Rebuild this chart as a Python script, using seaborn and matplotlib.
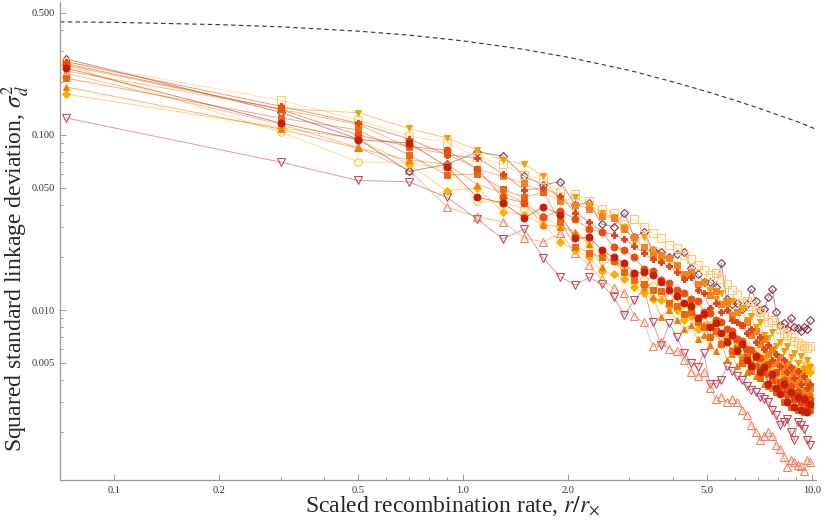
"""
Linkage deviation vs scaled recombination rate (log-log),
one curve per simulated population plus the Ohta-Kimura expectation.
"""

import matplotlib
matplotlib.use('Agg')
import matplotlib.pyplot as plt
import seaborn as sns
from matplotlib.ticker import FixedLocator, FixedFormatter, NullFormatter


# x grid: scaled recombination rate r / r_x
rate = [0.073, 0.3, 0.5, 0.7, 0.9, 1.1, 1.3, 1.5, 1.7, 1.9,
        2.1, 2.3, 2.5, 2.7, 2.9, 3.1, 3.3, 3.5, 3.7, 3.9,
        4.1, 4.3, 4.5, 4.7, 4.9, 5.1, 5.3, 5.5, 5.7, 5.9,
        6.1, 6.3, 6.5, 6.7, 6.9, 7.1, 7.3, 7.5, 7.7, 7.9,
        8.1, 8.3, 8.5, 8.7, 8.9, 9.1, 9.3, 9.5, 9.7, 9.9]

# one list per population
circle_dark = [0.241, 0.117, 0.094, 0.090, 0.066, 0.044, 0.041, 0.0335, 0.039, 0.035,
               0.0258, 0.026, 0.022, 0.020, 0.0185, 0.0163, 0.0165, 0.0158, 0.0145, 0.0130,
               0.0120, 0.0110, 0.0105, 0.0090, 0.0095, 0.0080, 0.0084, 0.0074, 0.0066, 0.0072,
               0.0058, 0.0064, 0.0052, 0.0048, 0.0055, 0.0044, 0.0047, 0.0038, 0.0043, 0.0036,
               0.0033, 0.0038, 0.0030, 0.0034, 0.0028, 0.0032, 0.0027, 0.0031, 0.0026, 0.0029]
circle_red = [0.255, 0.140, 0.100, 0.086, 0.082, 0.064, 0.044, 0.041, 0.034, 0.037,
              0.033, 0.029, 0.028, 0.023, 0.022, 0.020, 0.0172, 0.0168, 0.0148, 0.0142,
              0.0130, 0.0125, 0.0115, 0.0112, 0.0098, 0.0096, 0.0088, 0.0086, 0.0078, 0.0076,
              0.0068, 0.0067, 0.0060, 0.0059, 0.0054, 0.0053, 0.0048, 0.0049, 0.0043, 0.0044,
              0.0039, 0.0040, 0.0035, 0.0037, 0.0032, 0.0034, 0.0030, 0.0032, 0.0028, 0.0031]
square_hi = [0.250, 0.140, 0.115, 0.085, 0.078, 0.064, 0.058, 0.053, 0.047, 0.042,
             0.040, 0.038, 0.0345, 0.0336, 0.029, 0.0260, 0.0229, 0.0210, 0.0206, 0.0198,
             0.0180, 0.0160, 0.0165, 0.0140, 0.0145, 0.0122, 0.0128, 0.0108, 0.0112, 0.0094,
             0.0098, 0.0082, 0.0086, 0.0072, 0.0076, 0.0064, 0.0068, 0.0056, 0.0060, 0.0050,
             0.0054, 0.0045, 0.0049, 0.0040, 0.0044, 0.0038, 0.0042, 0.0035, 0.0039, 0.0036]
square_lo = [0.211, 0.125, 0.107, 0.077, 0.059, 0.060, 0.049, 0.044, 0.047, 0.032,
             0.023, 0.0212, 0.020, 0.019, 0.0165, 0.0150, 0.0140, 0.0130, 0.0128, 0.0110,
             0.0105, 0.0095, 0.0098, 0.0085, 0.0080, 0.0070, 0.0076, 0.0064, 0.0067, 0.0058,
             0.0060, 0.0050, 0.0054, 0.0045, 0.0048, 0.0041, 0.0044, 0.0037, 0.0040, 0.0034,
             0.0036, 0.0030, 0.0033, 0.0028, 0.0031, 0.0027, 0.0030, 0.0026, 0.0029, 0.0027]
tri_up = [0.188, 0.108, 0.084, 0.072, 0.068, 0.052, 0.047, 0.041, 0.0306, 0.030,
          0.028, 0.024, 0.0177, 0.020, 0.017, 0.0148, 0.0135, 0.0118, 0.0091, 0.0100,
          0.0088, 0.0078, 0.0082, 0.0068, 0.0072, 0.0063, 0.0058, 0.0066, 0.0052, 0.0056,
          0.0048, 0.0054, 0.0044, 0.0049, 0.0042, 0.0046, 0.0038, 0.0043, 0.0036, 0.0040,
          0.0034, 0.0038, 0.0032, 0.0037, 0.0031, 0.0036, 0.0030, 0.0035, 0.0032, 0.0034]
tri_down = [0.232, 0.142, 0.134, 0.109, 0.096, 0.082, 0.072, 0.068, 0.058, 0.0415,
            0.044, 0.040, 0.036, 0.034, 0.030, 0.0245, 0.026, 0.022, 0.0188, 0.0195,
            0.0176, 0.0150, 0.0165, 0.0140, 0.0145, 0.0130, 0.0115, 0.0125, 0.0105, 0.0112,
            0.0098, 0.0103, 0.0088, 0.0092, 0.0080, 0.0085, 0.0072, 0.0069, 0.0075, 0.0062,
            0.0066, 0.0058, 0.0062, 0.0054, 0.0057, 0.0050, 0.0055, 0.0046, 0.0052, 0.0047]
diamond = [0.171, 0.110, 0.095, 0.068, 0.048, 0.050, 0.0365, 0.035, 0.0306, 0.0245,
           0.022, 0.020, 0.0167, 0.0160, 0.0150, 0.0135, 0.0125, 0.0115, 0.0114, 0.0105,
           0.0100, 0.0088, 0.0092, 0.0078, 0.0082, 0.0070, 0.0075, 0.0064, 0.0068, 0.0058,
           0.0062, 0.0054, 0.0059, 0.0050, 0.0056, 0.0047, 0.0053, 0.0045, 0.0050, 0.0043,
           0.0048, 0.0042, 0.0047, 0.0041, 0.0046, 0.0040, 0.0045, 0.0041, 0.0046, 0.0044]
plus = [0.262, 0.146, 0.117, 0.095, 0.077, 0.074, 0.060, 0.0485, 0.050, 0.045,
        0.036, 0.032, 0.028, 0.027, 0.0255, 0.0232, 0.0212, 0.0195, 0.0188, 0.0178,
        0.0165, 0.0150, 0.0155, 0.0130, 0.0125, 0.0103, 0.0110, 0.0097, 0.0100, 0.0088,
        0.0086, 0.0082, 0.0074, 0.0078, 0.0066, 0.0070, 0.0060, 0.0063, 0.0052, 0.0056,
        0.0048, 0.0052, 0.0044, 0.0047, 0.0041, 0.0045, 0.0038, 0.0042, 0.0036, 0.0038]
open_circle = [0.250, 0.104, 0.0705, 0.069, 0.064, 0.042, 0.041, 0.038, 0.034, 0.030,
               0.027, 0.024, 0.0206, 0.019, 0.0175, 0.016, 0.0150, 0.0138, 0.0125, 0.0118,
               0.0114, 0.0100, 0.0105, 0.0090, 0.0095, 0.0082, 0.0085, 0.0072, 0.0076, 0.0064,
               0.0068, 0.0058, 0.0062, 0.0054, 0.0058, 0.0050, 0.0055, 0.0048, 0.0053, 0.0047,
               0.0051, 0.0046, 0.0050, 0.0045, 0.0049, 0.0044, 0.0048, 0.0046, 0.0049, 0.0047]
open_square = [0.262, 0.158, 0.122, 0.099, 0.090, 0.075, 0.068, 0.059, 0.056, 0.047,
               0.046, 0.042, 0.038, 0.036, 0.031, 0.033, 0.030, 0.0275, 0.0258, 0.0235,
               0.0225, 0.0206, 0.0195, 0.0180, 0.0170, 0.0159, 0.0162, 0.0150, 0.0140, 0.0130,
               0.0122, 0.0110, 0.0112, 0.0105, 0.0100, 0.0098, 0.0092, 0.0086, 0.0088, 0.0082,
               0.0078, 0.0074, 0.0072, 0.0070, 0.0067, 0.0065, 0.0063, 0.0062, 0.0061, 0.0062]
open_diamond = [0.272, 0.135, 0.095, 0.062, 0.068, 0.080, 0.076, 0.058, 0.052, 0.054,
                0.040, 0.041, 0.031, 0.030, 0.0358, 0.026, 0.028, 0.022, 0.0215, 0.020,
                0.021, 0.0215, 0.0175, 0.016, 0.0145, 0.0145, 0.0135, 0.0185, 0.0115, 0.0108,
                0.0110, 0.0102, 0.0108, 0.0132, 0.0113, 0.0100, 0.0102, 0.0118, 0.0132, 0.0097,
                0.0082, 0.0084, 0.0078, 0.0090, 0.0080, 0.0079, 0.0076, 0.0080, 0.0078, 0.0088]
open_tri_up = [0.225, 0.115, 0.085, 0.063, 0.0388, 0.034, 0.032, 0.0258, 0.0245, 0.0276,
               0.0212, 0.0180, 0.0150, 0.0133, 0.0125, 0.0092, 0.0085, 0.0062, 0.0066, 0.0060,
               0.0058, 0.0052, 0.0044, 0.0042, 0.0044, 0.0036, 0.0031, 0.0032, 0.0030, 0.0031,
               0.0030, 0.0027, 0.0025, 0.0022, 0.0020, 0.0018, 0.0019, 0.0020, 0.0019, 0.0017,
               0.0016, 0.00145, 0.00127, 0.0014, 0.00135, 0.0013, 0.00128, 0.0012, 0.0014, 0.00135]
open_tri_down = [0.125, 0.070, 0.055, 0.054, 0.044, 0.033, 0.0255, 0.029, 0.0198, 0.0155,
                 0.0139, 0.0154, 0.0140, 0.0119, 0.0094, 0.0114, 0.0133, 0.0085, 0.0063, 0.0084,
                 0.0070, 0.0057, 0.0050, 0.0047, 0.0057, 0.0038, 0.0038, 0.0040, 0.0048, 0.0045,
                 0.0042, 0.0040, 0.0037, 0.0035, 0.0034, 0.0032, 0.0031, 0.0030, 0.0027, 0.0025,
                 0.0022, 0.0023, 0.0024, 0.0020, 0.0018, 0.0023, 0.0022, 0.0021, 0.0018, 0.0017]

# theoretical expectation (dashed), read at a handful of rates
theory_rate = [0.070, 0.1, 0.2, 0.3, 0.5, 0.7, 1.0, 1.5, 2.0, 3.0, 4.0, 5.0, 6.0, 7.0, 8.0, 9.0, 10.27]
theory_sigma = [0.443, 0.440, 0.427, 0.415, 0.392, 0.372, 0.345, 0.308, 0.278, 0.234,
                0.201, 0.177, 0.158, 0.143, 0.130, 0.120, 0.108]

# (values, marker, colour, filled) -- drawn in this order
series = [
    (open_tri_down, 'v', '#c04a58', False),
    (open_tri_up, '^', '#f08462', False),
    (open_diamond, 'D', '#8c3048', False),
    (open_square, 's', '#ffc86e', False),
    (open_circle, 'o', '#ffc040', False),
    (diamond, 'D', '#ffae00', True),
    (tri_down, 'v', '#f5a000', True),
    (tri_up, '^', '#f47c00', True),
    (square_hi, 's', '#f58220', True),
    (square_lo, 's', '#ee6612', True),
    (plus, 'P', '#e04818', True),
    (circle_red, 'o', '#e8500c', True),
    (circle_dark, 'o', '#c81e00', True),
]

for vals, *_ in series:
    assert len(vals) == len(rate)

sns.set_style('ticks')
plt.rcParams['font.family'] = ['Liberation Serif', 'DejaVu Serif']
plt.rcParams['mathtext.fontset'] = 'stix'

fig = plt.figure(figsize=(8.31, 5.27), dpi=100)
ax = fig.add_axes([0.0722, 0.0892, 0.9097, 0.907])

sns.lineplot(x=theory_rate, y=theory_sigma, ax=ax, color='#333333',
             lw=0.8, dashes=False, linestyle=(0, (4, 3)), legend=False)

for vals, marker, color, filled in series:
    # thin pale connecting line
    sns.lineplot(x=rate, y=vals, ax=ax, color=color, lw=0.7, alpha=0.55,
                 estimator=None, legend=False)
    if marker == 'o':
        ms = 5.0
    elif marker == 'D':
        ms = 3.8
    elif marker == 'P':
        ms = 4.6
    else:
        ms = 4.8
    sns.lineplot(x=rate, y=vals, ax=ax, color=color, linestyle='',
                 marker=marker, markersize=ms if filled else ms + 0.4,
                 markerfacecolor=color if filled else 'none',
                 markeredgecolor=color, markeredgewidth=0.7 if filled else 0.8,
                 estimator=None, legend=False)

ax.set_xscale('log')
ax.set_yscale('log')
ax.set_xlim(0.070, 10.27)
ax.set_ylim(0.00107, 0.575)

x_major = [0.1, 0.2, 0.5, 1.0, 2.0, 5.0, 10.0]
x_minor = [0.3, 0.4, 0.6, 0.7, 0.8, 0.9, 3, 4, 6, 7, 8, 9]
y_major = [0.005, 0.01, 0.05, 0.1, 0.5]
y_minor = [0.002, 0.003, 0.004, 0.006, 0.007, 0.008, 0.009, 0.02, 0.03, 0.04,
           0.06, 0.07, 0.08, 0.09, 0.2, 0.3, 0.4]

ax.xaxis.set_major_locator(FixedLocator(x_major))
ax.xaxis.set_major_formatter(FixedFormatter(['0.1', '0.2', '0.5', '1.0', '2.0', '5.0', '10.0']))
ax.xaxis.set_minor_locator(FixedLocator(x_minor))
ax.xaxis.set_minor_formatter(NullFormatter())
ax.yaxis.set_major_locator(FixedLocator(y_major))
ax.yaxis.set_major_formatter(FixedFormatter(['0.005', '0.010', '0.050', '0.100', '0.500']))
ax.yaxis.set_minor_locator(FixedLocator(y_minor))
ax.yaxis.set_minor_formatter(NullFormatter())

ax.tick_params(which='both', direction='in', color='#888888', width=0.6,
               labelsize=7.5, labelcolor='#333333')
ax.tick_params(which='major', length=4.5, pad=4)
ax.tick_params(which='minor', length=2.5)

sns.despine(ax=ax)
for side in ('left', 'bottom'):
    ax.spines[side].set_color('#999999')
    ax.spines[side].set_linewidth(0.9)

ax.set_xlabel(r'Scaled recombination rate, $r/r_{\times}$', fontsize=17)
ax.set_ylabel(r'Squared standard linkage deviation, $\sigma_d^2$', fontsize=17)
ax.xaxis.set_label_coords(0.519, -0.029)
ax.yaxis.set_label_coords(-0.037, 0.4435)

fig.savefig('out.png', dpi=100)
plt.close(fig)
